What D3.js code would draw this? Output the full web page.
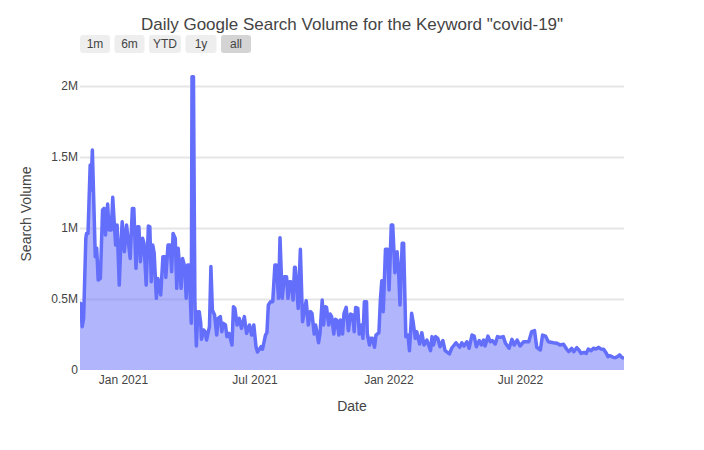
<!DOCTYPE html>
<html>
<head>
<meta charset="utf-8">
<title>covid-19 search volume</title>
<script src="https://cdn.jsdelivr.net/npm/d3@7"></script>
<style>
  html, body { margin: 0; padding: 0; background: #fff; }
  text { font-family: "Liberation Sans", Arial, sans-serif; fill: #444; }
</style>
</head>
<body>
<svg id="chart" width="704" height="450"></svg>
<script>
const startDate = new Date(2020, 10, 3);
const endDate = new Date(2022, 10, 21);

// days since startDate
const dayOffsets = [0, 1, 3, 5, 8, 9, 11, 14, 15, 17, 19, 21, 23, 25, 28, 31, 33, 35, 38, 40, 43, 45, 47, 49, 51, 54, 56, 58, 61, 64, 69, 72, 74, 77, 79, 81, 83, 86, 88, 91, 94, 96, 98, 100, 102, 105, 107, 111, 114, 117, 118, 121, 124, 126, 128, 131, 133, 135, 139, 141, 144, 146, 148, 150, 153, 154, 156, 158, 160, 162, 164, 166, 167, 170, 172, 174, 178, 180, 182, 185, 188, 190, 193, 195, 197, 200, 202, 205, 209, 211, 213, 216, 219, 222, 226, 229, 233, 236, 239, 242, 244, 249, 251, 255, 257, 259, 262, 265, 268, 270, 273, 275, 278, 281, 284, 286, 288, 290, 293, 295, 296, 300, 303, 306, 311, 314, 317, 319, 322, 324, 328, 330, 333, 335, 337, 339, 342, 344, 346, 349, 351, 353, 356, 358, 361, 363, 366, 369, 372, 375, 377, 379, 382, 384, 387, 389, 391, 394, 395, 398, 400, 402, 405, 407, 411, 413, 415, 417, 420, 423, 425, 428, 430, 433, 436, 438, 440, 443, 445, 448, 451, 453, 456, 458, 461, 463, 467, 470, 473, 477, 482, 484, 486, 489, 492, 495, 499, 502, 508, 511, 517, 522, 525, 528, 532, 535, 539, 542, 545, 549, 552, 555, 557, 561, 564, 567, 571, 574, 578, 582, 585, 590, 594, 597, 601, 605, 610, 617, 621, 625, 628, 633, 636, 640, 644, 651, 656, 660, 665, 669, 672, 676, 679, 683, 686, 689, 693, 696, 699, 703, 706, 710, 713, 716, 720, 723, 726, 729, 733, 736, 739, 742, 745, 748];

// search volume in thousands
const volumes = [460, 469, 305, 364, 927, 962, 962, 1443, 1267, 1549, 1173, 798, 857, 634, 645, 1127, 1138, 951, 1169, 986, 986, 1216, 1044, 880, 1021, 598, 868, 1044, 833, 1021, 786, 1138, 1138, 716, 1009, 1009, 763, 927, 892, 598, 1014, 1009, 622, 880, 821, 505, 645, 528, 798, 798, 652, 880, 880, 692, 962, 927, 575, 857, 575, 786, 728, 505, 739, 739, 329, 2065, 2065, 469, 169, 411, 411, 329, 216, 282, 270, 211, 305, 728, 422, 387, 246, 364, 376, 270, 329, 317, 235, 258, 176, 446, 434, 317, 364, 293, 376, 258, 317, 246, 317, 164, 127, 164, 146, 246, 263, 458, 481, 481, 739, 739, 505, 932, 505, 657, 657, 505, 622, 622, 493, 723, 723, 434, 850, 340, 488, 317, 411, 399, 253, 317, 192, 258, 493, 317, 446, 441, 317, 394, 376, 253, 357, 352, 246, 352, 253, 399, 441, 277, 394, 387, 270, 441, 434, 253, 317, 223, 481, 481, 258, 176, 223, 223, 160, 246, 263, 493, 629, 411, 850, 850, 563, 1021, 1021, 685, 833, 704, 458, 892, 892, 235, 246, 136, 399, 340, 223, 270, 183, 263, 176, 211, 136, 235, 176, 235, 223, 164, 207, 136, 113, 153, 192, 160, 192, 169, 199, 153, 246, 239, 164, 207, 176, 211, 169, 239, 199, 207, 183, 235, 230, 235, 188, 153, 216, 176, 211, 169, 199, 199, 270, 277, 160, 141, 246, 239, 199, 192, 188, 176, 181, 148, 129, 153, 129, 157, 141, 117, 124, 117, 148, 136, 153, 148, 160, 148, 146, 124, 94, 101, 89, 87, 94, 106, 89, 82];

const yTicks = [0, 500000, 1000000, 1500000, 2000000];
const yTickLabels = ["0", "0.5M", "1M", "1.5M", "2M"];
const xTicks = [new Date(2021, 0, 1), new Date(2021, 6, 1), new Date(2022, 0, 1), new Date(2022, 6, 1)];
const buttonLabels = ["1m", "6m", "YTD", "1y", "all"];
const buttonWidths = [30, 30, 32, 31, 30];

const data = dayOffsets.map((d, i) => ({ date: d3.timeDay.offset(startDate, d), value: volumes[i] * 1000 }));

const svg = d3.select("#chart");

const x = d3.scaleTime().domain([startDate, endDate]).range([80, 624]);
const y = d3.scaleLinear().domain([0, 2000000]).range([370, 86]);

svg.append("defs").append("clipPath").attr("id", "plot-clip")
  .append("rect").attr("x", 80).attr("y", 70).attr("width", 544).attr("height", 300);

// gridlines + y labels
const yAxis = d3.axisLeft(y).tickValues(yTicks).tickSize(0).tickPadding(2)
  .tickFormat((d, i) => yTickLabels[i]);
const gy = svg.append("g").attr("transform", "translate(80,0)").call(yAxis);
gy.select(".domain").remove();
gy.selectAll("text").style("font-size", "12px").style("font-family", null);
gy.selectAll(".tick").filter(d => d > 0).append("line")
  .attr("x1", 0).attr("x2", 544).attr("stroke", "#e6e6e6").attr("stroke-width", 2);

const xAxis = d3.axisBottom(x).tickValues(xTicks).tickSize(0).tickPadding(5)
  .tickFormat(d3.timeFormat("%b %Y"));
const gx = svg.append("g").attr("transform", "translate(0,370)").call(xAxis);
gx.select(".domain").remove();
gx.selectAll("text").style("font-size", "12px").style("font-family", null);

const plot = svg.append("g").attr("clip-path", "url(#plot-clip)");

plot.append("path").datum(data)
  .attr("fill", "#636efa").attr("fill-opacity", 0.5)
  .attr("d", d3.area().x(d => x(d.date)).y0(y(0)).y1(d => y(d.value)));

plot.append("path").datum(data)
  .attr("fill", "none").attr("stroke", "#636efa").attr("stroke-width", 3.5)
  .attr("stroke-linejoin", "round")
  .attr("d", d3.line().x(d => x(d.date)).y(d => y(d.value)));

// titles
svg.append("text").attr("x", 352).attr("y", 30).attr("text-anchor", "middle")
  .style("font-size", "17px").text('Daily Google Search Volume for the Keyword "covid-19"');
svg.append("text").attr("x", 352).attr("y", 411).attr("text-anchor", "middle")
  .style("font-size", "14px").text("Date");
svg.append("text").attr("transform", "translate(31,214) rotate(-90)").attr("text-anchor", "middle")
  .style("font-size", "14px").text("Search Volume");

// range selector buttons
let bx = 80;
buttonLabels.forEach((label, i) => {
  const w = buttonWidths[i];
  svg.append("rect").attr("x", bx).attr("y", 35).attr("width", w).attr("height", 18).attr("rx", 3)
    .attr("fill", label === "all" ? "#d4d4d4" : "#eeeeee");
  svg.append("text").attr("x", bx + w / 2).attr("y", 48).attr("text-anchor", "middle")
    .style("font-size", "12px").text(label);
  bx += w + 4.5;
});
</script>
</body>
</html>
